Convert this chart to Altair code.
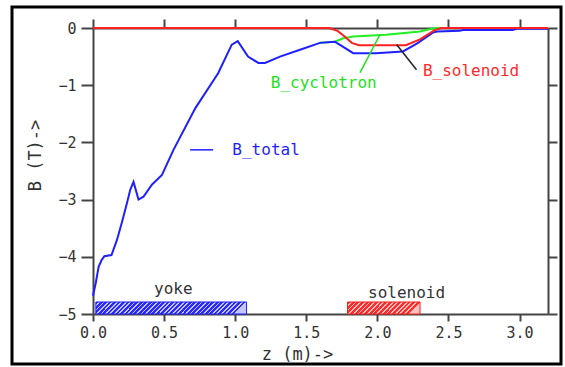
import altair as alt
import pandas as pd

# ---------------- data ----------------
total_z = [0.0, 0.02, 0.04, 0.06, 0.08, 0.13, 0.168, 0.204, 0.239, 0.262, 0.285, 0.32,
           0.355, 0.414, 0.485, 0.566, 0.72, 0.88, 0.976, 1.018, 1.09, 1.163, 1.21,
           1.315, 1.456, 1.596, 1.70, 1.74, 1.83, 1.99, 2.18, 2.28, 2.39, 2.42, 2.58,
           2.6, 2.95, 2.98, 3.2]
total_b = [-4.68, -4.45, -4.17, -4.06, -3.99, -3.97, -3.71, -3.39, -3.06, -2.83, -2.69, -3.0,
           -2.95, -2.74, -2.57, -2.13, -1.40, -0.79, -0.29, -0.23, -0.50, -0.61, -0.61,
           -0.50, -0.38, -0.26, -0.24, -0.30, -0.44, -0.44, -0.41, -0.27, -0.08, -0.06, -0.05,
           -0.035, -0.035, -0.015, -0.015]

sol_z = [0.0, 1.66, 1.72, 1.77, 1.82, 1.87, 2.2, 2.3, 2.4, 2.45, 3.2]
sol_b = [0.0, 0.0, -0.05, -0.15, -0.26, -0.30, -0.30, -0.20, -0.04, 0.0, 0.0]

cyc_z = [1.596, 1.70, 1.76, 1.83, 2.06, 2.3, 2.39, 2.45]
cyc_b = [-0.26, -0.24, -0.18, -0.15, -0.12, -0.06, -0.01, 0.0]

region_names = ["yoke", "solenoid"]
region_start = [0.02, 1.79]
region_end = [1.08, 2.30]
region_bottom = [-5.0, -5.0]
region_top = [-4.79, -4.79]
region_label_z = [0.565, 2.205]
region_label_b = [-4.57, -4.64]

label_texts = ["B_total", "B_cyclotron", "B_solenoid"]
label_z = [0.98, 1.25, 2.32]
label_b = [-2.13, -0.97, -0.76]
label_colors = ["#1f1fff", "#22e022", "#ff2a2a"]

# pointer lines: (z1, b1, z2, b2)
ptr_z1 = [0.683, 1.878, 2.135]
ptr_b1 = [-2.13, -0.78, -0.29]
ptr_z2 = [0.845, 2.017, 2.275]
ptr_b2 = [-2.13, -0.12, -0.73]
ptr_colors = ["#1f1fff", "#22e022", "#222222"]

BLUE = "#1f1fff"
RED = "#ff2020"
GREEN = "#22ee22"
FONT = "DejaVu Sans Mono"

xs = alt.Scale(domain=[0, 3.2], nice=False, zero=False)
ys = alt.Scale(domain=[-5, 0], nice=False, zero=False)

total_df = pd.DataFrame({"z": total_z, "B": total_b})
sol_df = pd.DataFrame({"z": sol_z, "B": sol_b})
cyc_df = pd.DataFrame({"z": cyc_z, "B": cyc_b})

axis_common = dict(grid=False, domainColor="#444444", domainWidth=2, tickColor="#444444",
                   tickWidth=2, labelFont=FONT, labelFontSize=15, labelColor="#333333",
                   titleFont=FONT, titleFontSize=17, titleColor="#333333", titleFontWeight="normal",
                   labelFlush=False, labelOverlap=False)

x_bottom = alt.Axis(orient="bottom", values=[0, 0.5, 1.0, 1.5, 2.0, 2.5, 3.0], format=".1f",
                    tickSize=7, labelPadding=4, title="z (m)->", titleX=204, titleY=40,
                    titleAlign="center", titleBaseline="middle", **axis_common)
y_left = alt.Axis(orient="left", values=[0, -1, -2, -3, -4, -5], format="d",
                  tickSize=12, labelPadding=5, title="B (T)->", titleX=-58, titleY=127,
                  titleAlign="center", titleBaseline="middle", titleAngle=-90, **axis_common)
x_top = alt.Axis(orient="top", values=[0, 0.5, 1.0, 1.5, 2.0, 2.5, 3.0], labels=False,
                 title=None, tickSize=9, **axis_common)
y_right = alt.Axis(orient="right", values=[0, -1, -2, -3, -4, -5], labels=False,
                   title=None, tickSize=9, **axis_common)

green = alt.Chart(cyc_df).mark_line(color=GREEN, strokeWidth=2).encode(
    x=alt.X("z:Q", scale=xs, axis=None), y=alt.Y("B:Q", scale=ys, axis=None))

blue = alt.Chart(total_df).mark_line(color=BLUE, strokeWidth=2).encode(
    x=alt.X("z:Q", scale=xs, axis=x_bottom), y=alt.Y("B:Q", scale=ys, axis=y_left))

red = alt.Chart(sol_df).mark_line(color=RED, strokeWidth=2).encode(
    x=alt.X("z:Q", scale=xs, axis=x_top), y=alt.Y("B:Q", scale=ys, axis=y_right))


def hatch(color, light, ratio, n=34):
    stops = []
    for i in range(n):
        a = i / n
        b = (i + 0.62) / n
        c = (i + 1) / n
        stops += [alt.GradientStop(offset=a, color=color), alt.GradientStop(offset=b, color=color),
                  alt.GradientStop(offset=b, color=light), alt.GradientStop(offset=c, color=light)]
    return alt.LinearGradient(gradient="linear", stops=stops, x1=0, y1=0, x2=1, y2=ratio)


reg_df = pd.DataFrame({"name": region_names, "z1": region_start, "z2": region_end,
                       "b1": region_bottom, "b2": region_top})
yoke_bar = alt.Chart(reg_df.iloc[[0]]).mark_rect(
    fill=hatch("#2a2aff", "#c4c4ff", 12 / 151, 34), stroke=BLUE, strokeWidth=1).encode(
    x=alt.X("z1:Q", scale=xs, axis=None), x2="z2:Q",
    y=alt.Y("b1:Q", scale=ys, axis=None), y2="b2:Q")
sol_bar = alt.Chart(reg_df.iloc[[1]]).mark_rect(
    fill=hatch("#ff2a2a", "#ffc0c0", 12 / 73, 16), stroke=RED, strokeWidth=1).encode(
    x=alt.X("z1:Q", scale=xs, axis=None), x2="z2:Q",
    y=alt.Y("b1:Q", scale=ys, axis=None), y2="b2:Q")

reg_lbl_df = pd.DataFrame({"name": region_names, "z": region_label_z, "B": region_label_b})
reg_lbl = alt.Chart(reg_lbl_df).mark_text(font=FONT, fontSize=16, color="#333333",
                                           align="center", baseline="middle").encode(
    x=alt.X("z:Q", scale=xs, axis=None), y=alt.Y("B:Q", scale=ys, axis=None), text="name:N")

lbl_df = pd.DataFrame({"t": label_texts, "z": label_z, "B": label_b, "c": label_colors})
labels = alt.Chart(lbl_df).mark_text(font=FONT, fontSize=16, align="left",
                                     baseline="middle").encode(
    x=alt.X("z:Q", scale=xs, axis=None), y=alt.Y("B:Q", scale=ys, axis=None), text="t:N",
    color=alt.Color("c:N", scale=None))

ptr_df = pd.DataFrame({"z1": ptr_z1, "b1": ptr_b1, "z2": ptr_z2, "b2": ptr_b2, "c": ptr_colors})
pointers = alt.Chart(ptr_df).mark_rule(strokeWidth=1.5).encode(
    x=alt.X("z1:Q", scale=xs, axis=None), x2="z2:Q",
    y=alt.Y("b1:Q", scale=ys, axis=None), y2="b2:Q",
    color=alt.Color("c:N", scale=None))

frame = alt.Chart(pd.DataFrame({"k": [0]})).mark_rect(
    fillOpacity=0, stroke="#000000", strokeWidth=3).encode(
    x=alt.value(-81), x2=alt.value(468), y=alt.value(-21), y2=alt.value(336))

chart = alt.layer(
    yoke_bar, sol_bar, green, blue, red, pointers, labels, reg_lbl, frame
).resolve_axis(x="independent", y="independent").properties(
    width=455, height=286,
    autosize=alt.AutoSizeParams(type="none"),
    padding={"left": 93, "top": 28, "right": 17, "bottom": 53},
).configure_view(stroke=None).configure(background="white")

chart.save("out.html", embed_options={"renderer": "svg", "actions": False})
